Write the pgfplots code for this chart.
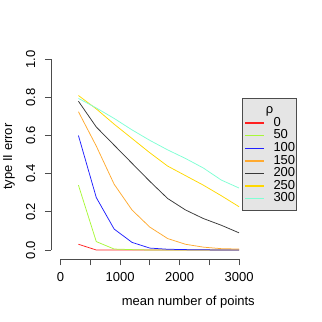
\documentclass[border=0pt]{standalone}
\usepackage{fontspec}
\setmainfont{Liberation Sans}
\usepackage{pgfplots}
\pgfplotsset{compat=1.18}
\definecolor{c0}{HTML}{FF2020}
\definecolor{c50}{HTML}{A8F838}
\definecolor{c100}{HTML}{2020FF}
\definecolor{c150}{HTML}{FFAA30}
\definecolor{c200}{HTML}{383838}
\definecolor{c250}{HTML}{FFD800}
\definecolor{c300}{HTML}{80FFD4}
\newcommand{\rfont}{\fontsize{13bp}{15bp}\selectfont}

\begin{document}
\begin{tikzpicture}
\useasboundingbox (-51bp,-62.7bp) rectangle (271bp,259.3bp);
\begin{axis}[
  at={(0,0)}, anchor=south west,
  scale only axis, width=271bp, height=207.7bp,
  xmin=-161.4, xmax=4395, ymin=-0.0488, ymax=1.0404,
  clip=false,
  separate axis lines,
  axis x line*=bottom, axis y line*=left,
  axis line style={draw=none},
  tick align=outside, major tick length=6bp,
  tick style={black!70, line width=0.75bp},
  xtick={0,500,1000,1500,2000,2500,3000},
  xticklabels={0,,1000,,2000,,3000},
  ytick={0,0.2,0.4,0.6,0.8,1.0},
  yticklabels={0.0,0.2,0.4,0.6,0.8,1.0},
  /pgf/number format/assume math mode=true,
  tick label style={font=\rfont},
  xticklabel style={yshift=-4bp},
  yticklabel style={rotate=90, anchor=south, inner ysep=9.6bp},
  label style={font=\rfont},
  xlabel={mean number of points},
  ylabel={type II error},
  xlabel style={at={(axis description cs:0.5066,-0.206)}, anchor=center},
  ylabel style={at={(axis description cs:-0.155,0.494)}, anchor=center},
  every axis plot/.append style={line width=0.75bp},
  legend style={at={(axis description cs:0.706,0.775)}, anchor=north west,
    fill=black!10, draw=black!70, line width=0.75bp,
    inner xsep=0.8bp, inner ysep=5bp, row sep=0pt, column sep=8.5bp,
    font=\rfont,
    nodes={inner sep=0pt, text height=9.4bp, text depth=3.2bp}},
  legend cell align=left,
  legend image code/.code={\draw[#1, line width=1.4bp] (1.5bp,0bp) -- (20.8bp,0bp);},
]
\addlegendimage{empty legend}
\addlegendentry[text depth=3.7bp]{\hspace{-9bp}ρ}

\addplot[c0] coordinates {
  (300,0.03) (600,0.0) (900,0.0) (1200,0.0) (1500,0.0)
  (1800,0.0) (2100,0.0) (2400,0.0) (2700,0.0) (3000,0.0)};
\addlegendentry{0}
\addplot[c50] coordinates {
  (300,0.34) (600,0.044) (900,0.005) (1200,0.002) (1500,0.0)
  (1800,0.0) (2100,0.0) (2400,0.0) (2700,0.0) (3000,0.0)};
\addlegendentry{50}
\addplot[c100] coordinates {
  (300,0.60) (600,0.275) (900,0.11) (1200,0.04) (1500,0.01)
  (1800,0.004) (2100,0.002) (2400,0.001) (2700,0.0) (3000,0.0)};
\addlegendentry{100}
\addplot[c150] coordinates {
  (300,0.725) (600,0.545) (900,0.345) (1200,0.21) (1500,0.12)
  (1800,0.06) (2100,0.03) (2400,0.015) (2700,0.007) (3000,0.005)};
\addlegendentry{150}
\addplot[c200] coordinates {
  (300,0.78) (600,0.645) (900,0.55) (1200,0.455) (1500,0.36)
  (1800,0.27) (2100,0.21) (2400,0.165) (2700,0.13) (3000,0.09)};
\addlegendentry{200}
\addplot[c250] coordinates {
  (300,0.81) (600,0.74) (900,0.66) (1200,0.585) (1500,0.51)
  (1800,0.44) (2100,0.39) (2400,0.34) (2700,0.285) (3000,0.227)};
\addlegendentry{250}
\addplot[c300] coordinates {
  (300,0.795) (600,0.745) (900,0.69) (1200,0.63) (1500,0.575)
  (1800,0.525) (2100,0.48) (2400,0.43) (2700,0.367) (3000,0.325)};
\addlegendentry{300}

\draw[black!70, line width=0.75bp] (axis cs:0,-0.0488) -- (axis cs:3000,-0.0488);
\draw[black!70, line width=0.75bp] (axis cs:-161.4,0) -- (axis cs:-161.4,1);
\end{axis}
\end{tikzpicture}
\end{document}
